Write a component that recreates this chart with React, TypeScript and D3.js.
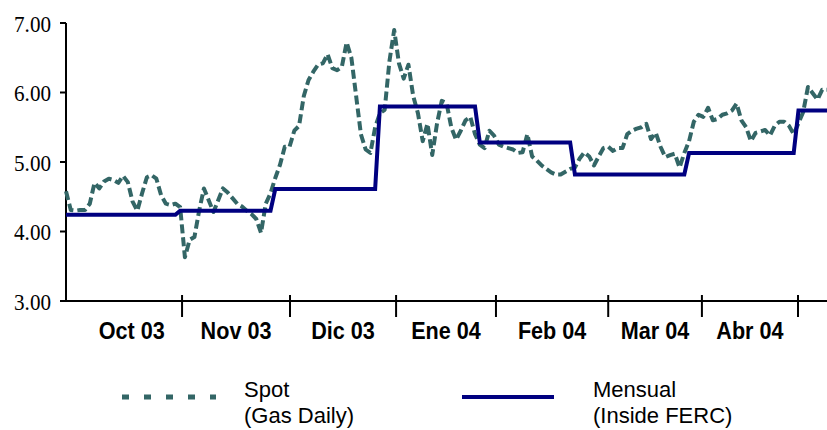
import React from "react";
import * as d3 from "d3";

// Daily spot prices (Gas Daily), one value per plotted day
const spotValues: number[] = [
  4.58, 4.31, 4.30, 4.31, 4.31, 4.40, 4.70, 4.62, 4.72, 4.76,
  4.74, 4.70, 4.80, 4.71, 4.43, 4.30, 4.55, 4.78, 4.81, 4.76,
  4.52, 4.40, 4.38, 4.40, 4.35, 3.63, 3.88, 3.92, 4.30, 4.62,
  4.45, 4.28, 4.45, 4.62, 4.56, 4.48, 4.40, 4.36, 4.30, 4.25,
  4.18, 3.98, 4.40, 4.55, 4.77, 4.96, 5.22, 5.22, 5.45, 5.52,
  5.95, 6.18, 6.30, 6.40, 6.42, 6.55, 6.35, 6.32, 6.37, 6.72,
  6.50, 5.95, 5.40, 5.18, 5.13, 5.50, 5.70, 5.75, 6.45, 6.90,
  6.42, 6.20, 6.40, 5.95, 5.70, 5.30, 5.55, 5.10, 5.55, 5.88,
  5.85, 5.50, 5.32, 5.45, 5.60, 5.65, 5.40, 5.25, 5.20, 5.45,
  5.38, 5.25, 5.22, 5.20, 5.18, 5.13, 5.14, 5.40, 5.08, 5.02,
  4.95, 4.90, 4.85, 4.82, 4.82, 4.86, 4.90, 4.92, 5.05, 5.14,
  5.08, 4.95, 5.08, 5.20, 5.22, 5.16, 5.20, 5.20, 5.40, 5.45,
  5.48, 5.50, 5.55, 5.33, 5.42, 5.22, 5.07, 5.10, 5.12, 4.92,
  5.13, 5.30, 5.58, 5.68, 5.65, 5.78, 5.60, 5.62, 5.68, 5.70,
  5.74, 5.84, 5.60, 5.50, 5.30, 5.42, 5.44, 5.46, 5.38, 5.52,
  5.58, 5.58, 5.52, 5.40, 5.56, 5.72, 6.08, 5.99, 5.90, 6.04,
  6.04,
];

// Monthly index (Inside FERC): value and first day index where it applies
const mensualValues: number[] = [4.24, 4.30, 4.61, 5.80, 5.28, 4.82, 5.13, 5.74];
const mensualStartIdx: number[] = [0, 24, 44, 66, 87, 107, 131, 154];

// Month labels and month boundaries (in day-index units)
const monthLabels: string[] = ["Oct 03", "Nov 03", "Dic 03", "Ene 04", "Feb 04", "Mar 04", "Abr 04"];
const monthBounds: number[] = [3.2, 24.4, 47.1, 69.4, 90.4, 114.0, 133.7, 153.9];

const yTicks: number[] = [3, 4, 5, 6, 7];

const legendTitles: string[] = ["Spot", "Mensual"];
const legendSubtitles: string[] = ["(Gas Daily)", "(Inside FERC)"];

const SPOT_COLOR = "#336666";
const MENSUAL_COLOR = "#000080";

export default function App() {
  const W = 827;
  const H = 430;
  const left = 66;
  const right = 827;
  const top = 23;
  const bottom = 301;

  const x = d3.scaleLinear().domain([0, spotValues.length - 1]).range([left, right]);
  const y = d3.scaleLinear().domain([3, 7]).range([bottom, top]);

  const spotLine = d3
    .line<number>()
    .x((_, i) => x(i))
    .y((d) => y(d));

  const mensualDaily = spotValues.map((_, i) => {
    let k = 0;
    for (let m = 0; m < mensualStartIdx.length; m++) if (i >= mensualStartIdx[m]) k = m;
    return mensualValues[k];
  });

  const legendDash = [122, 216];
  const legendSolid = [462, 554];
  const legendTextX = [244, 593];
  const legendY = 397;

  return (
    <svg
      width={W}
      height={H}
      style={{ position: "absolute", left: 0, top: 0, background: "#fff" }}
    >
      {/* axes */}
      <line x1={left} x2={left} y1={top} y2={bottom} stroke="#000" strokeWidth={2} />
      <line x1={left} x2={right} y1={bottom} y2={bottom} stroke="#000" strokeWidth={2} />

      {yTicks.map((t) => (
        <g key={t}>
          <line x1={left - 6} x2={left} y1={y(t)} y2={y(t)} stroke="#000" strokeWidth={2} />
          <text
            transform={`translate(51, ${y(t) + 8.5}) scale(0.88,1)`}
            textAnchor="end"
            fontFamily="'Liberation Serif', 'Times New Roman', serif"
            fontSize={24}
            fill="#000"
          >
            {t.toFixed(2)}
          </text>
        </g>
      ))}

      {monthBounds.slice(1).map((b, i) => (
        <line key={i} x1={x(b)} x2={x(b)} y1={bottom - 6} y2={bottom + 16} stroke="#000" strokeWidth={2} />
      ))}

      {monthLabels.map((lab, i) => (
        <text
          key={lab}
          transform={`translate(${(x(monthBounds[i]) + x(monthBounds[i + 1])) / 2}, 339) scale(0.9,1)`}
          textAnchor="middle"
          fontFamily="'Liberation Sans', Arial, sans-serif"
          fontWeight="bold"
          fontSize={24}
          fill="#000"
        >
          {lab}
        </text>
      ))}

      {/* spot series */}
      <path
        d={spotLine(spotValues) || ""}
        fill="none"
        stroke={SPOT_COLOR}
        strokeWidth={4}
        strokeDasharray="9 4"
        strokeLinejoin="round"
      />

      {/* monthly series */}
      <path
        d={spotLine(mensualDaily) || ""}
        fill="none"
        stroke={MENSUAL_COLOR}
        strokeWidth={4}
        strokeLinejoin="miter"
      />

      {/* legend */}
      <line
        x1={legendDash[0]}
        x2={legendDash[1]}
        y1={legendY}
        y2={legendY}
        stroke={SPOT_COLOR}
        strokeWidth={5}
        strokeDasharray="7 15"
      />
      <line
        x1={legendSolid[0]}
        x2={legendSolid[1]}
        y1={legendY}
        y2={legendY}
        stroke={MENSUAL_COLOR}
        strokeWidth={4}
      />
      {legendTitles.map((t, i) => (
        <g key={t} fontFamily="'Liberation Sans', Arial, sans-serif" fontSize={22} fill="#000">
          <text x={legendTextX[i]} y={legendY}>{t}</text>
          <text x={legendTextX[i]} y={legendY + 26}>{legendSubtitles[i]}</text>
        </g>
      ))}
    </svg>
  );
}
